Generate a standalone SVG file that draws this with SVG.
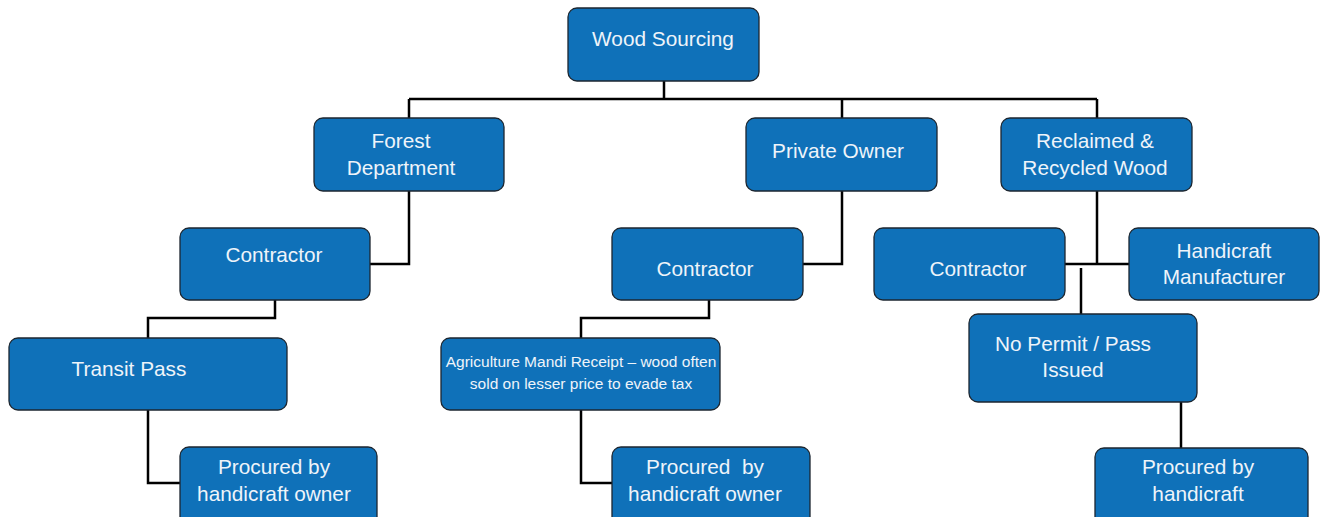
<svg xmlns="http://www.w3.org/2000/svg" width="1324" height="517" viewBox="0 0 1324 517">
<style>
.n{fill:#0f71b9;stroke:#1c2630;stroke-width:1.3}
.t{fill:#eef4fa;font-family:"Liberation Sans",Arial,sans-serif;font-size:20.8px;text-anchor:middle}
.s{font-size:15.5px}
.c{fill:none;stroke:#000;stroke-width:2.5}
</style>
<rect width="1324" height="517" fill="#fff"/>
<g id="connectors">
<path class="c" d="M664 81V99M409 99H1097M409 99V118M842 99V118M1097 99V118"/>
<path class="c" d="M409 191V264H370"/>
<path class="c" d="M275 300V318H148V338"/>
<path class="c" d="M148 410V483H180"/>
<path class="c" d="M842 191V264H803"/>
<path class="c" d="M709 300V318H581V338"/>
<path class="c" d="M581 410V483H612"/>
<path class="c" d="M1097 191V264M1065 264H1129"/>
<path class="c" d="M1081 268V314"/>
<path class="c" d="M1181 402V448"/>
</g>
<g id="wood-sourcing"><rect class="n" x="568" y="8" width="191" height="73" rx="9"/><text class="t" x="663" y="46">Wood Sourcing</text></g>
<g id="forest-department"><rect class="n" x="314" y="118" width="190" height="73" rx="9"/><text class="t" x="401" y="148">Forest</text><text class="t" x="401" y="175">Department</text></g>
<g id="private-owner"><rect class="n" x="746" y="118" width="191" height="73" rx="9"/><text class="t" x="838" y="158">Private Owner</text></g>
<g id="reclaimed"><rect class="n" x="1001" y="118" width="191" height="73" rx="9"/><text class="t" x="1095" y="148">Reclaimed &amp;</text><text class="t" x="1095" y="175">Recycled Wood</text></g>
<g id="contractor-1"><rect class="n" x="180" y="228" width="190" height="72" rx="9"/><text class="t" x="274" y="262">Contractor</text></g>
<g id="contractor-2"><rect class="n" x="612" y="228" width="191" height="72" rx="9"/><text class="t" x="705" y="276">Contractor</text></g>
<g id="contractor-3"><rect class="n" x="874" y="228" width="191" height="72" rx="9"/><text class="t" x="978" y="276">Contractor</text></g>
<g id="handicraft-manufacturer"><rect class="n" x="1129" y="228" width="190" height="72" rx="9"/><text class="t" x="1224" y="258">Handicraft</text><text class="t" x="1224" y="284">Manufacturer</text></g>
<g id="transit-pass"><rect class="n" x="9" y="338" width="278" height="72" rx="9"/><text class="t" x="129" y="376">Transit Pass</text></g>
<g id="agriculture-mandi"><rect class="n" x="441" y="338" width="279" height="72" rx="9"/><text class="t s" x="581" y="367">Agriculture Mandi Receipt – wood often</text><text class="t s" x="581" y="389">sold on lesser price to evade tax</text></g>
<g id="no-permit"><rect class="n" x="969" y="314" width="228" height="88" rx="9"/><text class="t" x="1073" y="351">No Permit / Pass</text><text class="t" x="1073" y="377">Issued</text></g>
<g id="procured-1"><rect class="n" x="180" y="447" width="197" height="80" rx="9"/><text class="t" x="274" y="474">Procured by</text><text class="t" x="274" y="501">handicraft owner</text></g>
<g id="procured-2"><rect class="n" x="612" y="447" width="198" height="80" rx="9"/><text class="t" x="705" y="474" xml:space="preserve">Procured  by</text><text class="t" x="705" y="501">handicraft owner</text></g>
<g id="procured-3"><rect class="n" x="1095" y="448" width="213" height="80" rx="9"/><text class="t" x="1198" y="474">Procured by</text><text class="t" x="1198" y="501">handicraft</text></g>
</svg>
